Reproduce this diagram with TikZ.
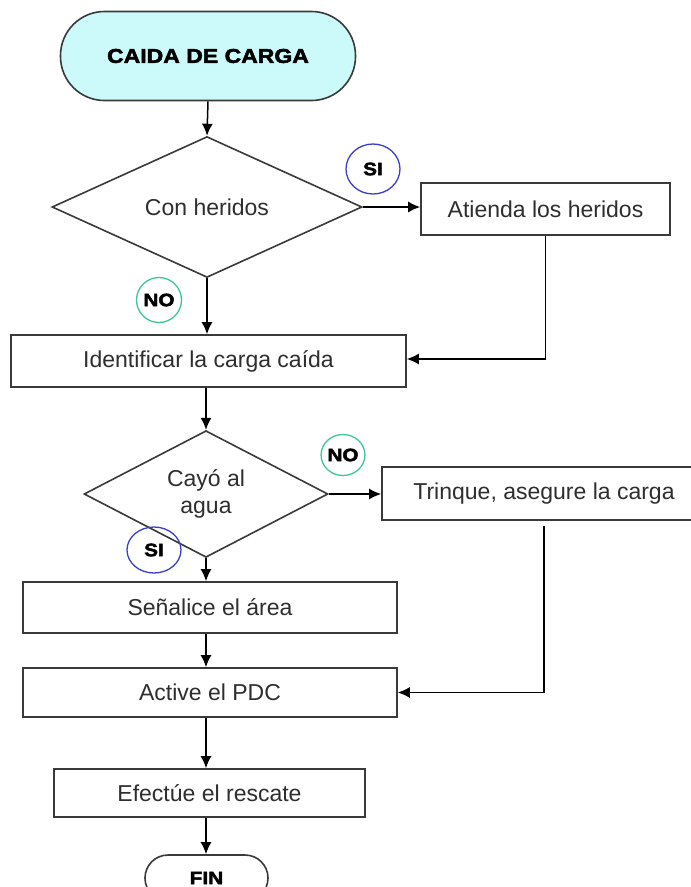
\documentclass[tikz,border=0pt]{standalone}
\usepackage{fontspec}
\setmainfont{Liberation Sans}
\newfontfamily\blackfont{Liberation Sans Bold}[FakeStretch=1.15,FakeBold=2.5]
\usetikzlibrary{shapes.geometric,arrows.meta,positioning,calc}
\definecolor{txt}{HTML}{2E2E2E}
\definecolor{edge}{HTML}{3A3A3A}
\definecolor{cyanfill}{HTML}{CCFAFA}
\definecolor{siblue}{HTML}{3C3CD0}
\definecolor{nogreen}{HTML}{3CC896}
\tikzset{
  base/.style={draw=edge, line width=1.6pt, text=txt, inner sep=0pt, font=\fontsize{23}{26}\selectfont, align=center},
  stepbox/.style={base, rectangle},
  decision/.style={base, diamond},
  terminal/.style={base, rectangle, rounded corners=44pt},
  tag/.style={ellipse, line width=1.3pt, inner sep=0pt, text=black, font=\blackfont\fontsize{18}{20}\selectfont},
  flow/.style={draw=black, line width=1.5pt, -{Latex[length=12pt,width=11pt]}},
}
\begin{document}
\begin{tikzpicture}[x=1pt,y=-1pt]
\useasboundingbox (0,0) rectangle (691,887);
\fill[white] (0,0) rectangle (691,887);

\node[terminal, fill=cyanfill, minimum width=295pt, minimum height=89pt, font=\blackfont\fontsize{20}{22}\selectfont, text=black] (start) at (208,56) {CAIDA DE CARGA};

\node[decision, minimum width=310pt, minimum height=140pt] (d1) at (207,207) {Con heridos};
\node[stepbox, minimum width=249pt, minimum height=52pt] (atienda) at (545.5,209) {Atienda los heridos};
\node[stepbox, minimum width=395pt, minimum height=52pt] (ident) at (208.5,361) {Identificar la carga caída};

\node[decision, minimum width=244pt, minimum height=104pt] (d2) at (206,494) {Cayó al\\[1pt]agua};
\node[stepbox, minimum width=324pt, minimum height=53pt] (trinque) at (544,493.5) {Trinque, asegure la carga};

\node[stepbox, minimum width=374pt, minimum height=51pt] (senal) at (210,607.5) {Señalice el área};
\node[stepbox, minimum width=374pt, minimum height=49pt] (active) at (210,692.5) {Active el PDC};
\node[stepbox, minimum width=311pt, minimum height=48pt] (efect) at (209.5,793) {Efectúe el rescate};
\node[terminal, minimum width=123pt, minimum height=46pt, rounded corners=23pt, font=\blackfont\fontsize{18}{20}\selectfont, text=black] (fin) at (206.5,878) {FIN};

\node[tag, draw=siblue, minimum width=54pt, minimum height=50pt] (si1) at (373,169) {SI};
\node[tag, draw=nogreen, minimum width=45pt, minimum height=45pt] (no1) at (159,300) {NO};
\node[tag, draw=nogreen, minimum width=43pt, minimum height=41pt] (no2) at (343,455) {NO};
\node[tag, draw=siblue, minimum width=54pt, minimum height=46pt] (si2) at (154,550) {SI};

\draw[flow] (start.south) -- (d1.north);
\draw[flow] (d1.east) -- (d1.east -| atienda.west);
\draw[flow] (atienda.south) |- ($(ident.east)+(0,-2)$);
\draw[flow] (d1.south) -- (d1.south |- ident.north);
\draw[flow] (ident.south -| d2.north) -- (d2.north);
\draw[flow] (d2.east) -- (d2.east -| trinque.west);
\coordinate (tq) at ($(trinque.south)+(0,5)$);
\draw[flow] (tq) |- (active.east);
\draw[flow] (d2.south) -- (d2.south |- senal.north);
\draw[flow] (senal.south -| d2.south) -- (active.north -| d2.south);
\draw[flow] (active.south -| d2.south) -- (efect.north -| d2.south);
\draw[flow] (efect.south -| d2.south) -- (fin.north -| d2.south);
\end{tikzpicture}
\end{document}
